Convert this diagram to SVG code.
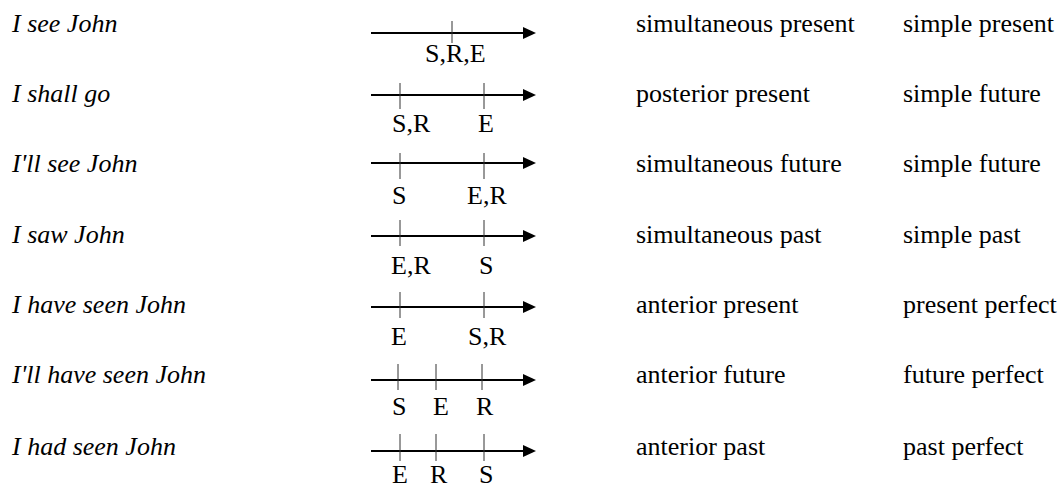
<svg xmlns="http://www.w3.org/2000/svg" width="1060" height="488" viewBox="0 0 1060 488">
<style>
text{font-family:'Liberation Serif','Times New Roman','DejaVu Serif',serif;font-size:26px;fill:#000}
.ex{font-style:italic}
.tl{stroke:#000;stroke-width:1.8;fill:none}
.tk{stroke:#333;stroke-width:1;fill:none}
</style>
<defs>
<marker id="ah" markerUnits="userSpaceOnUse" markerWidth="14" markerHeight="12" refX="0" refY="6" orient="auto">
<path d="M0,0 L13,6 L0,12 Z" fill="#000"/>
</marker>
</defs>
<g id="row1">
<text class="ex" x="12" y="32">I see John</text>
<text x="636" y="32">simultaneous present</text>
<text x="903" y="32">simple present</text>
<text x="425" y="62">S,R,E</text>
</g>
<g id="row2">
<text class="ex" x="12" y="102">I shall go</text>
<text x="636" y="102">posterior present</text>
<text x="903" y="102">simple future</text>
<text x="392" y="132">S,R</text>
<text x="478" y="132">E</text>
</g>
<g id="row3">
<text class="ex" x="12" y="172">I'll see John</text>
<text x="636" y="172">simultaneous future</text>
<text x="903" y="172">simple future</text>
<text x="392" y="204">S</text>
<text x="467" y="204">E,R</text>
</g>
<g id="row4">
<text class="ex" x="12" y="243">I saw John</text>
<text x="636" y="243">simultaneous past</text>
<text x="903" y="243">simple past</text>
<text x="391" y="274">E,R</text>
<text x="479" y="274">S</text>
</g>
<g id="row5">
<text class="ex" x="12" y="313">I have seen John</text>
<text x="636" y="313">anterior present</text>
<text x="903" y="313">present perfect</text>
<text x="391" y="345">E</text>
<text x="468" y="345">S,R</text>
</g>
<g id="row6">
<text class="ex" x="12" y="383">I'll have seen John</text>
<text x="636" y="383">anterior future</text>
<text x="903" y="383">future perfect</text>
<text x="392" y="415">S</text>
<text x="433" y="415">E</text>
<text x="476" y="415">R</text>
</g>
<g id="row7">
<text class="ex" x="12" y="455">I had seen John</text>
<text x="636" y="455">anterior past</text>
<text x="903" y="455">past perfect</text>
<text x="392" y="483">E</text>
<text x="430" y="483">R</text>
<text x="479" y="483">S</text>
</g>
<g id="timelines">
<line class="tl" x1="371" y1="33" x2="523" y2="33" marker-end="url(#ah)"/>
<line class="tk" x1="452" y1="21" x2="452" y2="43"/>
<line class="tl" x1="371" y1="95" x2="523" y2="95" marker-end="url(#ah)"/>
<line class="tk" x1="400" y1="83" x2="400" y2="109"/>
<line class="tk" x1="484" y1="83" x2="484" y2="109"/>
<line class="tl" x1="371" y1="163" x2="523" y2="163" marker-end="url(#ah)"/>
<line class="tk" x1="400" y1="153" x2="400" y2="179"/>
<line class="tk" x1="484" y1="153" x2="484" y2="179"/>
<line class="tl" x1="371" y1="236" x2="523" y2="236" marker-end="url(#ah)"/>
<line class="tk" x1="400" y1="220" x2="400" y2="246"/>
<line class="tk" x1="484" y1="220" x2="484" y2="246"/>
<line class="tl" x1="371" y1="307" x2="523" y2="307" marker-end="url(#ah)"/>
<line class="tk" x1="400" y1="292" x2="400" y2="318"/>
<line class="tk" x1="484" y1="292" x2="484" y2="318"/>
<line class="tl" x1="371" y1="380" x2="523" y2="380" marker-end="url(#ah)"/>
<line class="tk" x1="398" y1="364" x2="398" y2="390"/>
<line class="tk" x1="436" y1="364" x2="436" y2="390"/>
<line class="tk" x1="482" y1="364" x2="482" y2="390"/>
<line class="tl" x1="371" y1="451" x2="523" y2="451" marker-end="url(#ah)"/>
<line class="tk" x1="400" y1="434" x2="400" y2="461"/>
<line class="tk" x1="436" y1="434" x2="436" y2="461"/>
<line class="tk" x1="484" y1="434" x2="484" y2="461"/>
</g>
</svg>
